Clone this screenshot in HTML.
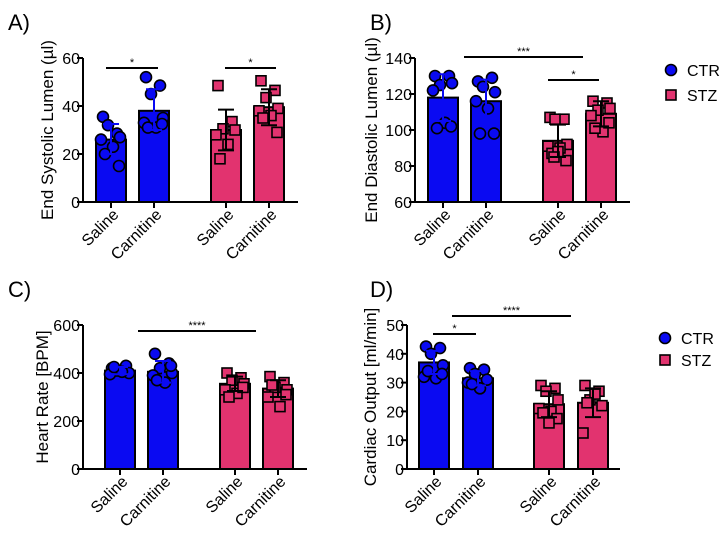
<!DOCTYPE html>
<html><head><meta charset="utf-8">
<style>
html,body{margin:0;padding:0;background:#fff;}
svg{display:block;font-family:"Liberation Sans",Arial,sans-serif;}
</style></head>
<body>
<svg id="fig" width="724" height="533" viewBox="0 0 724 533" xmlns="http://www.w3.org/2000/svg"></svg>
<script>
const categories = ["Saline","Carnitine","Saline","Carnitine"];
const groups = ["CTR","CTR","STZ","STZ"];
// Panel A: End Systolic Lumen
const aMeans = [26, 38, 30, 39.5];
const aErrUp = [32.5, 47, 38.5, 47];
const aErrLo = [20, 30, 21.5, 32];
const aPoints = [[35.5,28.5,32,27,26,23,20,15],[52,48.5,45,35,33,31,31,32.5],[48.5,33.5,30.5,30,28,24,18],[50.5,46.5,43.5,39,38,36,35,29]];
const aTicks = [0,20,40,60];
// Panel B: End Diastolic Lumen
const bMeans = [118, 116, 94, 109];
const bErrUp = [131, 128, 103, 116];
const bErrLo = [105, 104, 85, 102];
const bPoints = [[130,130,125,126,122,104,101,102],[127,129,124,121,116,112,98,98],[107,106,106,92,91,90,87,83,88,85],[116,115,111,112,108,99,101,104]];
const bTicks = [60,80,100,120,140];
// Panel C: Heart Rate
const cMeans = [410, 405, 355, 335];
const cErrUp = [425, 450, 385, 370];
const cErrLo = [395, 360, 325, 300];
const cPoints = [[420,430,410,400,395,405,425],[480,440,420,400,390,360,370,430],[400,380,370,355,330,315,300,340],[385,360,340,330,300,260,350,310]];
const cTicks = [0,200,400,600];
// Panel D: Cardiac Output
const dMeans = [37, 31.5, 22.5, 23];
const dErrUp = [41, 34, 27, 28];
const dErrLo = [33, 29, 18, 18];
const dPoints = [[42.5,42,40,36,32,31.5,34,33],[35,34.5,33,31,30,28,29.5],[29,28,27,24,21,20,19.5,17.5,16],[29,27,24,22,12.5,26,23]];
const dTicks = [0,10,20,30,40,50];

const NS="http://www.w3.org/2000/svg";
const svg=document.getElementById('fig');
const BLUE="#0a0af2", PINK="#e2336f";
function mk(tag,attrs,parent){const e=document.createElementNS(NS,tag);for(const k in attrs)e.setAttribute(k,attrs[k]);(parent||svg).appendChild(e);return e;}
const jit=[-8,6,-3,9,-10,2,-6,8,0,-4];

function panel(cfg){
  const g=mk('g',{});
  
  
  const y=v=>cfg.y0+(v-cfg.min)/(cfg.max-cfg.min)*(cfg.y1-cfg.y0);
  const t=mk('text',{x:cfg.letterX,y:cfg.letterY,'font-size':22},g);t.textContent=cfg.letter;
  
  cfg.means.forEach((m,i)=>{
    const cx=cfg.centers[i], col=groups[i]==="CTR"?BLUE:PINK;
    const r=mk('rect',{x:cx-15,y:y(m),width:30,height:y(cfg.min)-y(m),fill:col,stroke:'#000','stroke-width':2},g);
    
    
  });
  cfg.points.forEach((arr,i)=>{
    const cx=cfg.centers[i], ctr=groups[i]==="CTR";
    arr.forEach((v,j)=>{
      const px=cx+jit[j%jit.length], py=y(v);
      let p;
      if(ctr) p=mk('circle',{cx:px,cy:py,r:5.5,fill:BLUE,stroke:'#000','stroke-width':1.6},g);
      else p=mk('rect',{x:px-5,y:py-5,width:10,height:10,fill:PINK,stroke:'#000','stroke-width':1.6},g);
      
      
    });
  });
  cfg.means.forEach((m,i)=>{
    const cx=cfg.centers[i], col=groups[i]==="CTR"?BLUE:'#000';
    const e=mk('path',{d:`M${cx},${y(cfg.lo[i])}V${y(cfg.up[i])}M${cx-8},${y(cfg.up[i])}H${cx+8}M${cx-8},${y(cfg.lo[i])}H${cx+8}`,stroke:col,'stroke-width':2,fill:'none'},g);
    
  });
  const ax=mk('path',{d:`M${cfg.ax},${cfg.y1}V${y(cfg.min)}H${cfg.axEnd}`,stroke:'#000','stroke-width':2,fill:'none'},g);
  
  cfg.ticks.forEach(v=>{
    mk('line',{x1:cfg.ax-6,x2:cfg.ax,y1:y(v),y2:y(v),stroke:'#000','stroke-width':2},g);
    const tl=mk('text',{x:cfg.ax-3,y:y(v)+6,'font-size':16,'text-anchor':'end'},g);tl.textContent=v;
    
  });
  cfg.centers.forEach((cx,i)=>{
    mk('line',{x1:cx,x2:cx,y1:y(cfg.min),y2:y(cfg.min)+6,stroke:'#000','stroke-width':2},g);
    const yy=y(cfg.min)+10;
    const tl=mk('text',{x:cx+5,y:yy+5,'font-size':16,'text-anchor':'end',transform:`rotate(-45 ${cx+5} ${yy})`},g);
    tl.textContent=categories[i];
    
  });
  const ty=(cfg.y0+cfg.y1)/2;
  const at=mk('text',{x:cfg.titleX,y:ty,'font-size':17,'text-anchor':'middle',transform:`rotate(-90 ${cfg.titleX} ${ty})`},g);
  at.textContent=cfg.title;
  cfg.sig.forEach(s=>{
    mk('line',{x1:s[0],x2:s[1],y1:s[2],y2:s[2],stroke:'#000','stroke-width':2},g);
    const st=mk('text',{x:(s[0]+s[1])/2,y:s[2]-2,'font-size':11,'text-anchor':'middle'},g);st.textContent=s[3];
    
  });
}
panel({name:'panel-a',letter:'A)',letterX:8,letterY:30,means:aMeans,up:aErrUp,lo:aErrLo,points:aPoints,ticks:aTicks,min:0,max:60,y0:202,y1:58,ax:83,axEnd:298,centers:[111,154,226,269],title:'End Systolic Lumen (µl)',titleX:53,sig:[[106,158,68,'*'],[225,276,68,'*']]});
panel({name:'panel-b',letter:'B)',letterX:370,letterY:30,means:bMeans,up:bErrUp,lo:bErrLo,points:bPoints,ticks:bTicks,min:60,max:140,y0:202,y1:58,ax:415,axEnd:630,centers:[443,486,558,601],title:'End Diastolic Lumen (µl)',titleX:377,sig:[[464,583,57,'***'],[548,599,80,'*']]});
panel({name:'panel-c',letter:'C)',letterX:8,letterY:297,means:cMeans,up:cErrUp,lo:cErrLo,points:cPoints,ticks:cTicks,min:0,max:600,y0:469,y1:325,ax:83,axEnd:307,centers:[120,163,235,278],title:'Heart Rate [BPM]',titleX:48,sig:[[138,256,331,'****']]});
panel({name:'panel-d',letter:'D)',letterX:370,letterY:297,means:dMeans,up:dErrUp,lo:dErrLo,points:dPoints,ticks:dTicks,min:0,max:50,y0:469,y1:325,ax:407,axEnd:620,centers:[434,478,549,593],title:'Cardiac Output [ml/min]',titleX:376,sig:[[433,476,334,'*'],[452,571,316,'****']]});

function legend(x,y1,y2,nm){
  const g=mk('g',{});
  
  const c=mk('circle',{cx:x,cy:y1,r:5.5,fill:BLUE,stroke:'#000','stroke-width':1.6},g);
  
  const t1=mk('text',{x:x+16,y:y1+6,'font-size':16},g);t1.textContent='CTR';
  
  const s=mk('rect',{x:x-5,y:y2-5,width:10,height:10,fill:PINK,stroke:'#000','stroke-width':1.6},g);
  
  const t2=mk('text',{x:x+16,y:y2+6,'font-size':16},g);t2.textContent='STZ';
  
}
legend(671,70,95,'legend-top');
legend(665,338,360,'legend-bottom');
</script>
</body></html>
